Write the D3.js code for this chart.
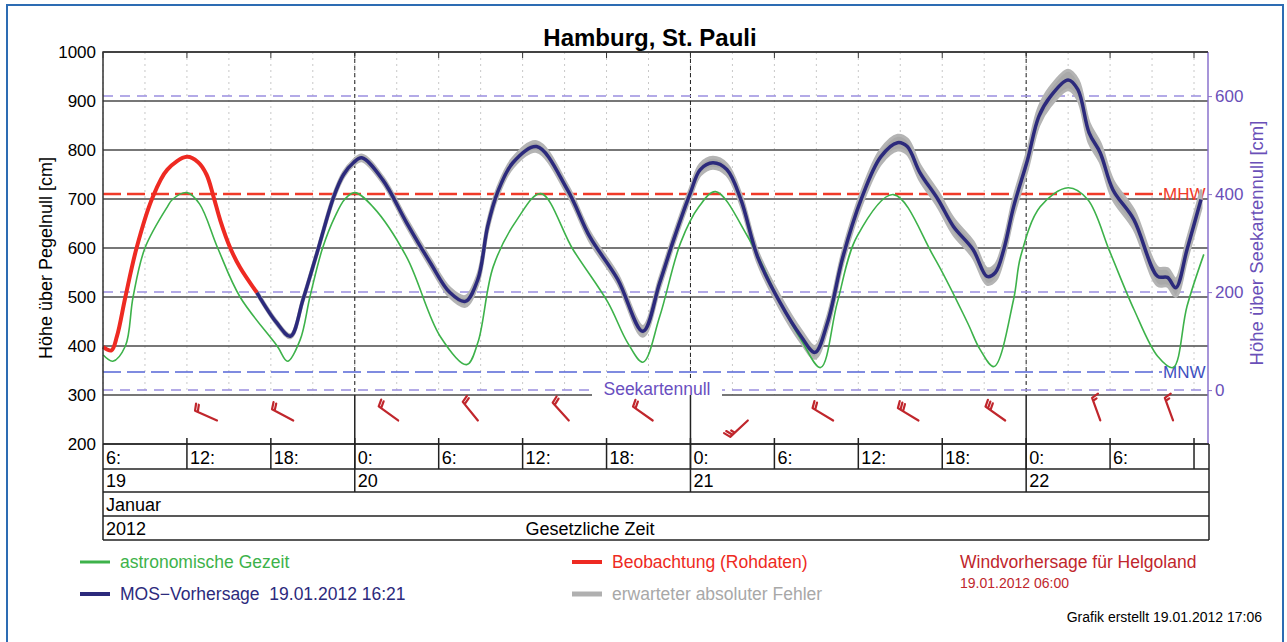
<!DOCTYPE html>
<html>
<head>
<meta charset="utf-8">
<script src="https://cdn.jsdelivr.net/npm/d3@7"></script>
<style>
body { margin: 0; background: #fff; }
svg { display: block; font-family: "Liberation Sans", Arial, sans-serif; }
</style>
</head>
<body>
<svg width="1287" height="642"></svg>
<script>
// hours are counted from 19.01.2012 00:00
var astroHours = [6.0, 6.7, 7.6, 8.15, 9.0, 10.6, 11.0, 12.0, 12.9, 14.2, 15.8, 18.45, 19.2, 20.1, 20.8, 21.7, 22.6, 23.3, 24.0, 25.3, 27.7, 30.1, 32.0, 32.8, 33.9, 35.6, 37.3, 39.6, 42.1, 43.5, 44.6, 45.8, 47.3, 48.6, 49.8, 52.1, 54.4, 55.9, 57.3, 58.5, 59.9, 62.5, 65.4, 67.8, 68.7, 69.7, 71.1, 71.6, 73.0, 75.0, 76.4, 78.0, 79.7, 81.4, 82.5, 83.5, 84.7];
var astroValues = [382, 369, 400, 500, 600, 684, 700, 713, 690, 600, 500, 400, 369, 413, 501, 600, 665, 700, 713, 684, 582, 420, 362, 407, 562, 658, 711, 597, 489, 407, 367, 460, 611, 684, 715, 623, 489, 413, 356, 489, 623, 709, 582, 448, 393, 358, 495, 582, 684, 723, 699, 591, 475, 379, 356, 481, 587];

var obsHours = [6.0, 6.6, 7.0, 7.6, 8.4, 9.5, 10.6, 12.0, 12.8, 13.4, 13.9, 14.4, 15.1, 15.8, 17.0];
var obsValues = [398, 391, 420, 500, 600, 700, 760, 786, 775, 750, 705, 655, 600, 560, 509];

var mosHours = [17.0, 18.4, 19.4, 20.3, 21.3, 22.5, 23.2, 23.9, 24.5, 26.0, 27.7, 29.4, 30.8, 31.9, 32.8, 33.5, 34.2, 35.3, 37.0, 39.2, 40.8, 42.8, 44.6, 45.8, 46.8, 48.0, 48.7, 49.6, 50.6, 51.6, 52.8, 54.4, 55.9, 56.9, 57.8, 58.9, 60.2, 61.6, 62.8, 63.5, 64.4, 65.7, 66.8, 68.2, 69.2, 69.8, 70.4, 71.1, 72.1, 72.9, 73.7, 75.0, 75.7, 76.5, 77.3, 78.2, 79.7, 81.4, 82.1, 82.7, 83.5, 84.5];
var mosValues = [509, 448, 420, 495, 590, 705, 750, 774, 784, 739, 652, 570, 509, 491, 536, 644, 713, 774, 807, 719, 623, 536, 430, 529, 617, 713, 760, 774, 760, 699, 582, 489, 420, 387, 448, 582, 699, 786, 815, 807, 754, 699, 644, 597, 542, 550, 597, 684, 780, 868, 908, 943, 923, 835, 794, 719, 658, 542, 540, 519, 597, 699];
var mosError = [3, 3, 3, 4, 4, 5, 5, 5, 6, 6,
                7, 8, 9, 10, 10, 9, 9, 9, 10, 9,
                9, 9, 10, 10, 10, 10, 11, 11, 11, 11,
                11, 12, 12, 12, 12, 12, 13, 14, 15, 15,
                15, 15, 16, 16, 16, 16, 16, 17, 18, 18,
                19, 20, 20, 20, 19, 19, 19, 18, 18, 18,
                18, 18];

var windHours = [14.15, 19.6, 27.1, 32.8, 39.3, 45.3, 52.1, 58.2, 64.3, 70.5, 77.3, 82.5];
var windDir = [294, 298, 306, 321, 318, 305, 227, 301, 301, 305, 340, 340];
var windSpeed = [20, 20, 20, 20, 20, 20, 25, 20, 30, 30, 15, 15];

var levelTicks = [200, 300, 400, 500, 600, 700, 800, 900, 1000];
var seekartenTicks = [0, 200, 400, 600];
var seekartennull = 310, mhw = 710, mnw = 347;

var t0 = new Date(2012, 0, 19, 0, 0);
function hr(h) { return new Date(t0.getTime() + h * 3600000); }

var svg = d3.select("svg"),
    pL = 103, pR = 1208, pT = 52, pB = 444,
    rowY = [444, 469, 492, 516, 540];

var x = d3.scaleTime().domain([hr(6), hr(85)]).range([pL, pR]);
var y = d3.scaleLinear().domain([200, 1000]).range([pB, pT]);
var ySk = d3.scaleLinear().domain([200 - seekartennull, 1000 - seekartennull]).range([pB, pT]);

// outer frame
svg.append("path").attr("d", "M7,642V5H1283V642").attr("fill", "none")
  .attr("stroke", "#2d6cb3").attr("stroke-width", 2);

svg.append("text").attr("x", 650).attr("y", 46).attr("text-anchor", "middle")
  .style("font-size", "24px").style("font-weight", "bold").text("Hamburg, St. Pauli");

var g = svg.append("g");

// faint 3-hourly grid
g.selectAll(".vgrid").data(x.ticks(d3.timeHour.every(3))).join("line")
  .attr("x1", d => x(d)).attr("x2", d => x(d)).attr("y1", pT).attr("y2", y(300))
  .attr("stroke", "#c8c8c8").attr("stroke-dasharray", "2,4");

// horizontal grid
g.selectAll(".hgrid").data(levelTicks).join("line")
  .attr("x1", pL).attr("x2", pR).attr("y1", d => y(d)).attr("y2", d => y(d))
  .attr("stroke", "#4a4a4a").attr("stroke-width", 1.6);

// midnight lines
var days = x.ticks(d3.timeDay.every(1));
g.selectAll(".mid").data(days).join("line")
  .attr("x1", d => x(d)).attr("x2", d => x(d)).attr("y1", pT).attr("y2", y(300))
  .attr("stroke", "#222").attr("stroke-dasharray", "4,3");

// top ticks every 6h
var hours6 = x.ticks(d3.timeHour.every(6));
g.selectAll(".ttick").data(hours6).join("line")
  .attr("x1", d => x(d)).attr("x2", d => x(d)).attr("y1", pT).attr("y2", pT + 6)
  .attr("stroke", "#333");

// reference lines
function refLine(v, color, w, dash, x2) {
  g.append("line").attr("x1", pL).attr("x2", x2).attr("y1", y(v)).attr("y2", y(v))
    .attr("stroke", color).attr("stroke-width", w).attr("stroke-dasharray", dash);
}
refLine(seekartennull + 600, "#9a8fe0", 1.5, "10,7", pR);
refLine(seekartennull + 200, "#9a8fe0", 1.5, "10,7", pR);
refLine(seekartennull, "#9a8fe0", 1.5, "10,7", pR);
refLine(mhw, "#f03a28", 2.5, "18,6", 1162);
refLine(mnw, "#5566d6", 1.5, "18,6", 1162);

g.append("text").attr("x", 1163).attr("y", y(mhw) + 6).attr("fill", "#f03a28")
  .style("font-size", "17px").text("MHW");
g.append("text").attr("x", 1163).attr("y", y(mnw) + 6).attr("fill", "#4050c0")
  .style("font-size", "17px").text("MNW");

g.append("rect").attr("x", 592).attr("y", y(seekartennull) - 10).attr("width", 130).attr("height", 17).attr("fill", "#fff");
g.append("text").attr("x", 657).attr("y", y(seekartennull) + 5).attr("text-anchor", "middle")
  .attr("fill", "#6a4fc0").style("font-size", "17.5px").text("Seekartennull");

// curves
var mos = mosHours.map((h, i) => ({ t: hr(h), v: mosValues[i], e: mosError[i] }));
var astro = astroHours.map((h, i) => ({ t: hr(h), v: astroValues[i] }));
var obs = obsHours.map((h, i) => ({ t: hr(h), v: obsValues[i] }));

var curve = d3.curveCatmullRom.alpha(0.5);
var band = d3.area().curve(curve)
  .x(d => x(d.t)).y0(d => y(d.v - d.e)).y1(d => y(d.v + d.e));
var line = d3.line().curve(curve)
  .x(d => x(d.t)).y(d => y(d.v));

g.append("path").datum(mos).attr("d", band).attr("fill", "#a9a9a9")
  .attr("stroke", "#b4b4b4").attr("stroke-width", 3).attr("stroke-linejoin", "round");
g.append("path").datum(astro).attr("d", line).attr("fill", "none")
  .attr("stroke", "#3db24a").attr("stroke-width", 1.6);
g.append("path").datum(mos).attr("d", line).attr("fill", "none")
  .attr("stroke", "#2c2a7c").attr("stroke-width", 3.5).attr("stroke-linejoin", "round");
g.append("path").datum(obs).attr("d", line).attr("fill", "none")
  .attr("stroke", "#ee2a22").attr("stroke-width", 4).attr("stroke-linejoin", "round");

// wind barbs
var wind = windHours.map((h, i) => ({ t: hr(h), dir: windDir[i], spd: windSpeed[i] }));
g.selectAll(".barb").data(wind).join("path")
  .attr("transform", d => "translate(" + x(d.t) + "," + y(248) + ")")
  .attr("d", function(d) {
    var a = d.dir * Math.PI / 180, ux = Math.sin(a), uy = -Math.cos(a), L = 24;
    var px = -uy, py = ux;
    var p = "M0,0L" + (ux * L) + "," + (uy * L);
    var s = d.spd, k = 0;
    while (s >= 10) {
      var bx = ux * (L - k * 3), by = uy * (L - k * 3);
      p += "M" + bx + "," + by + "l" + (px * 7 + ux * 2) + "," + (py * 7 + uy * 2);
      s -= 10; k++;
    }
    if (s >= 5) {
      var hx = ux * (L - k * 3), hy = uy * (L - k * 3);
      p += "M" + hx + "," + hy + "l" + (px * 4 + ux * 1) + "," + (py * 4 + uy * 1);
    }
    return p;
  })
  .attr("fill", "none").attr("stroke", "#c0262c").attr("stroke-width", 2.2)
  .attr("stroke-linecap", "round");

// left axis
var yAxis = g.append("g").attr("transform", "translate(" + (pL - 4) + ",0)")
  .call(d3.axisLeft(y).tickValues(levelTicks).tickSize(0).tickFormat(d3.format("d")));
yAxis.select(".domain").remove();
yAxis.selectAll("text").attr("fill", "#000").style("font-size", "17px").attr("font-family", null);

g.append("text").attr("transform", "translate(52,258) rotate(-90)").attr("text-anchor", "middle")
  .style("font-size", "18px").text("Höhe über Pegelnull [cm]");

// right axis
var rAxis = g.append("g").attr("transform", "translate(" + pR + ",0)")
  .call(d3.axisRight(ySk).tickValues(seekartenTicks).tickSize(4).tickPadding(3));
rAxis.select(".domain").attr("d", "M0," + pT + "V" + pB).attr("stroke", "#8a72cc").attr("stroke-width", 1.5);
rAxis.selectAll("line").attr("stroke", "#8a72cc");
rAxis.selectAll("text").attr("fill", "#6a4fb8").style("font-size", "17px").attr("font-family", null);

g.append("text").attr("transform", "translate(1263,243) rotate(-90)").attr("text-anchor", "middle")
  .attr("fill", "#6a4fb8").style("font-size", "18.5px").text("Höhe über Seekartennull [cm]");

// plot border
g.append("path").attr("d", "M" + pL + "," + pB + "V" + pT + "H" + pR)
  .attr("fill", "none").attr("stroke", "#333").attr("stroke-width", 1.5);

// time table
var tb = g.append("g").attr("stroke", "#222").attr("stroke-width", 1.5);
rowY.forEach(function(r) {
  tb.append("line").attr("x1", pL).attr("x2", pR + 1).attr("y1", r).attr("y2", r);
});
tb.append("line").attr("x1", pL).attr("x2", pL).attr("y1", pB).attr("y2", rowY[4]);
tb.append("line").attr("x1", pR + 1).attr("x2", pR + 1).attr("y1", pB).attr("y2", rowY[4]);
tb.selectAll(".htick").data(hours6.slice(1)).join("line")
  .attr("x1", d => x(d)).attr("x2", d => x(d)).attr("y1", pB - 6).attr("y2", rowY[1]);
tb.selectAll(".dtick").data(days).join("line")
  .attr("x1", d => x(d)).attr("x2", d => x(d)).attr("y1", y(300)).attr("y2", rowY[2]);

var fmtH = d3.timeFormat("%-H:"), fmtD = d3.timeFormat("%-d");
g.selectAll(".hlab").data(hours6.filter(d => x(d) + 30 < pR)).join("text")
  .attr("x", d => x(d) + 3).attr("y", rowY[1] - 5).style("font-size", "18px").text(d => fmtH(d));
g.selectAll(".dlab").data([hr(6)].concat(days)).join("text")
  .attr("x", d => x(d) + 3).attr("y", rowY[2] - 5).style("font-size", "18px").text(d => fmtD(d));
g.append("text").attr("x", pL + 3).attr("y", rowY[3] - 5).style("font-size", "18px").text("Januar");
g.append("text").attr("x", pL + 3).attr("y", rowY[4] - 5).style("font-size", "18px").text("2012");
g.append("text").attr("x", 590).attr("y", rowY[4] - 5).attr("text-anchor", "middle")
  .style("font-size", "18px").text("Gesetzliche Zeit");

// legend
var legend = [
  { x: 80, y: 562, color: "#3db24a", w: 3, text: "astronomische Gezeit", tc: "#3db24a" },
  { x: 80, y: 594, color: "#2c2a7c", w: 4, text: "MOS\u2212Vorhersage  19.01.2012 16:21", tc: "#2c2a7c" },
  { x: 572, y: 562, color: "#ee2a22", w: 4, text: "Beobachtung (Rohdaten)", tc: "#ee2a22" },
  { x: 572, y: 594, color: "#b0b0b0", w: 5, text: "erwarteter absoluter Fehler", tc: "#a8a8a8" }
];
var lg = svg.selectAll(".lg").data(legend).join("g");
lg.append("line").attr("x1", d => d.x).attr("x2", d => d.x + 30).attr("y1", d => d.y).attr("y2", d => d.y)
  .attr("stroke", d => d.color).attr("stroke-width", d => d.w);
lg.append("text").attr("x", d => d.x + 40).attr("y", d => d.y + 6).attr("fill", d => d.tc)
  .style("font-size", "17.5px").style("white-space", "pre").text(d => d.text);

svg.append("text").attr("x", 960).attr("y", 568).attr("fill", "#c0262c")
  .style("font-size", "17.5px").text("Windvorhersage für Helgoland");
svg.append("text").attr("x", 960).attr("y", 588).attr("fill", "#c0262c")
  .style("font-size", "14px").text("19.01.2012 06:00");
svg.append("text").attr("x", 1262).attr("y", 622).attr("text-anchor", "end")
  .style("font-size", "14px").text("Grafik erstellt 19.01.2012 17:06");
</script>
</body>
</html>
